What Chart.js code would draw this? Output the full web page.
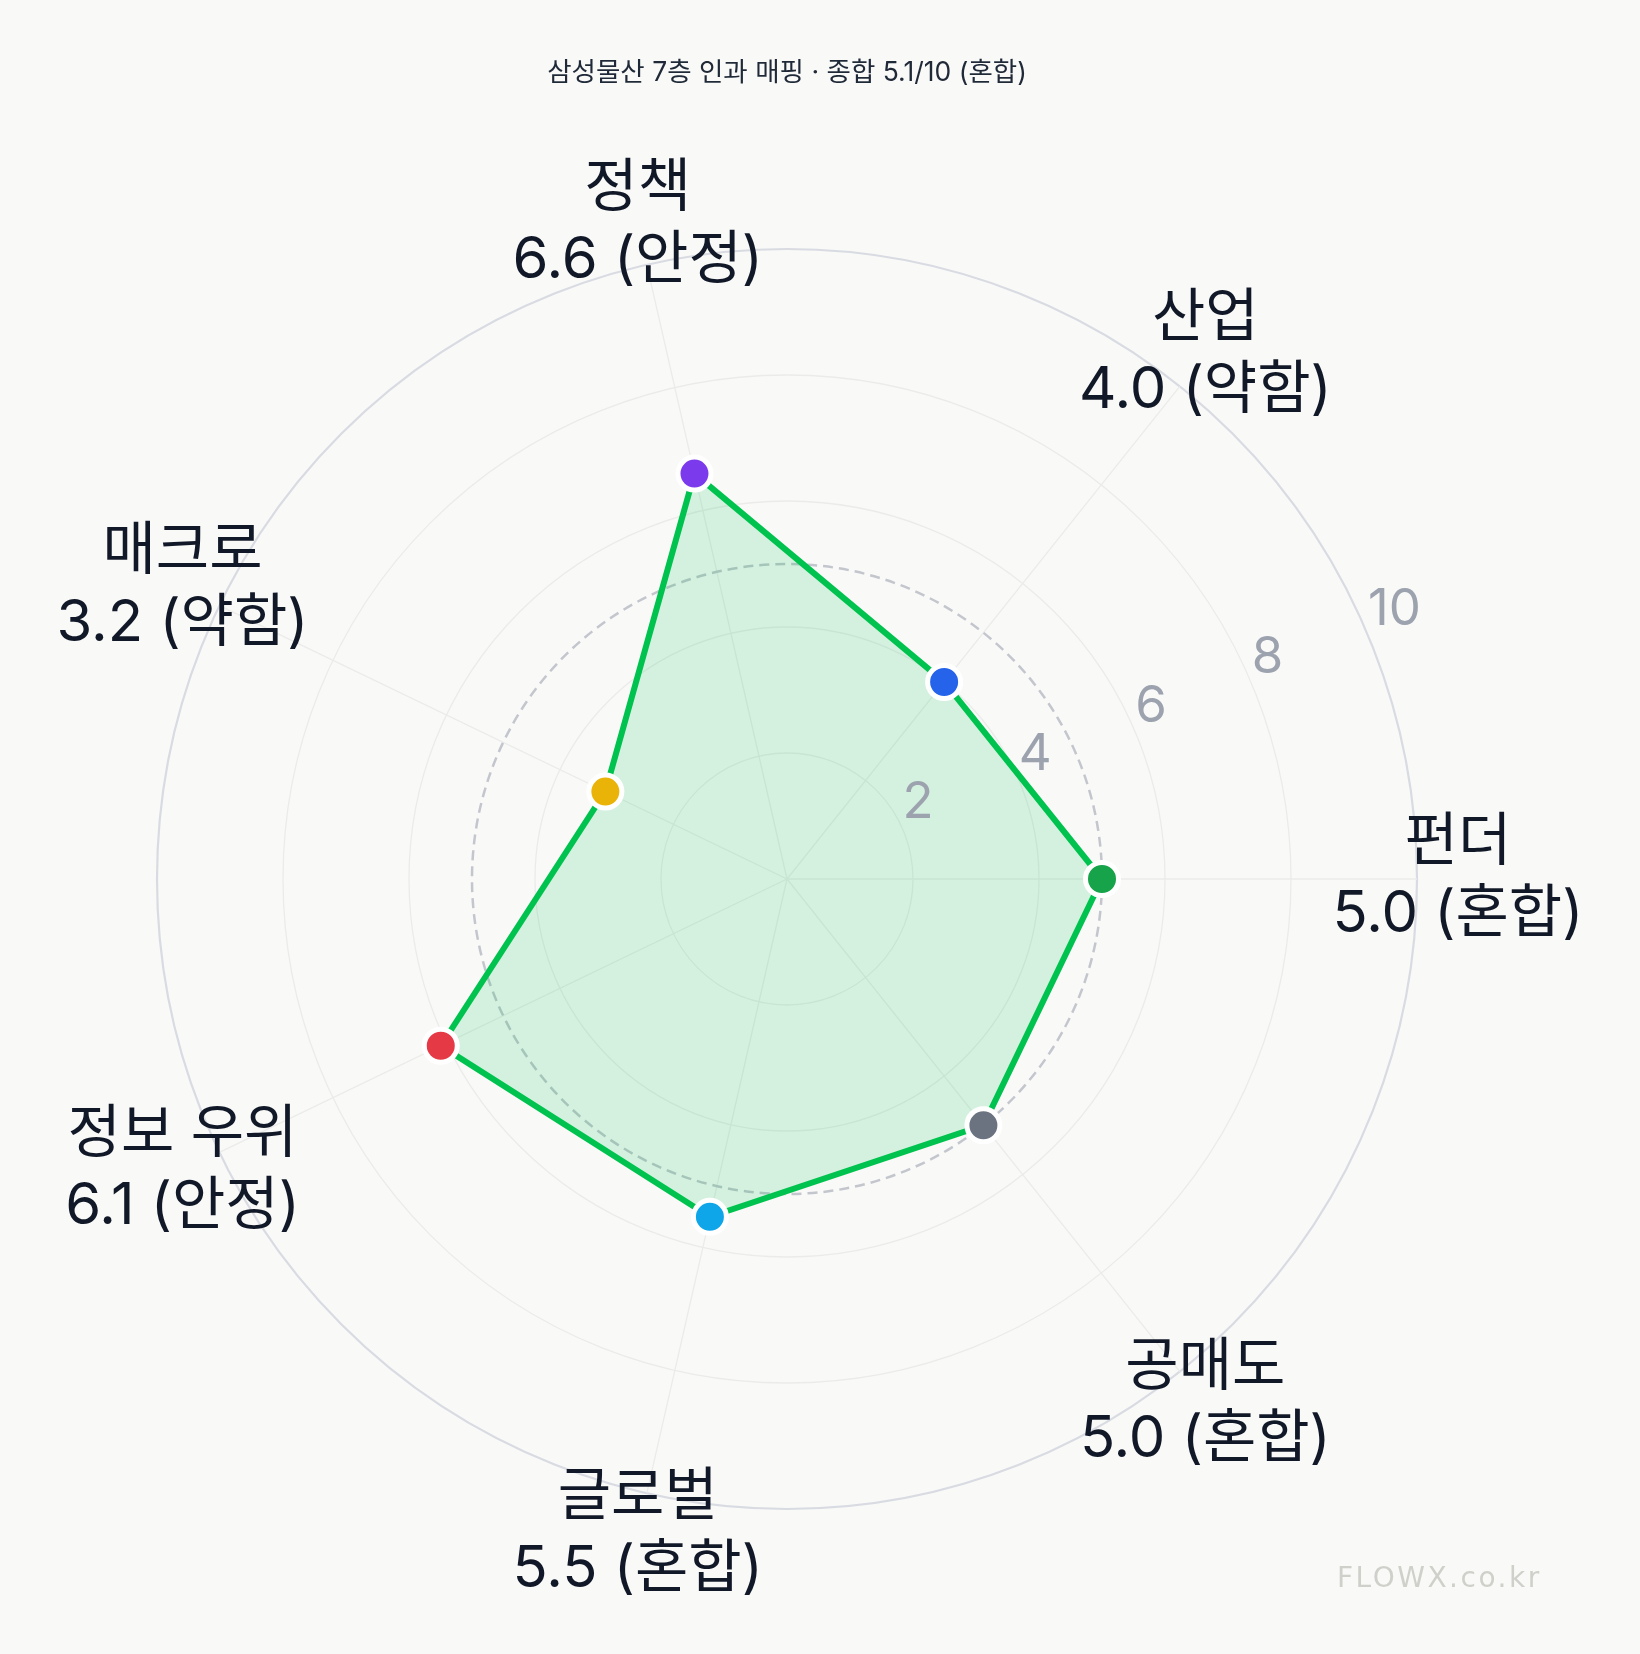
<!DOCTYPE html>
<html lang="ko">
<head>
<meta charset="UTF-8">
<title>삼성물산 7층 인과 매핑</title>
<script src="https://cdn.jsdelivr.net/npm/chart.js"></script>
<style>
  html, body { margin: 0; padding: 0; background: #f9f9f8; }
  canvas { display: block; }
</style>
</head>
<body>
<canvas id="radar" width="1640" height="1654"></canvas>
<script>
const chartTitle = '삼성물산 7층 인과 매핑 · 종합 5.1/10 (혼합)';
// layers listed counter-clockwise from the right, as in the picture
const layers = ['펀더', '산업', '정책', '매크로', '정보 우위', '글로벌', '공매도'];
const scores = [5.0, 4.0, 6.6, 3.2, 6.1, 5.5, 5.0];
const grades = ['혼합', '약함', '안정', '약함', '안정', '혼합', '혼합'];
const dotColors = ['#16a34a', '#2563eb', '#7c3aed', '#eab308', '#e63946', '#0ea5e9', '#6b7280'];
const tickValues = [2, 4, 6, 8, 10];
const refLine = 5.0;

// Chart.js walks clockwise, so flip the order (keep 펀더 first, on the right)
const order = [0, 6, 5, 4, 3, 2, 1];
const pick = arr => order.map(i => arr[i]);

const FONT = 'Inter, "Noto Sans CJK KR", sans-serif';

const extras = {
  id: 'extras',
  beforeDatasetsDraw(chart) {
    const s = chart.scales.r, ctx = chart.ctx;
    ctx.save();
    ctx.setLineDash([10, 6]);
    ctx.strokeStyle = '#c3c6cd';
    ctx.lineWidth = 2.5;
    ctx.beginPath();
    ctx.arc(s.xCenter, s.yCenter, s.getDistanceFromCenterForValue(refLine), 0, Math.PI * 2);
    ctx.stroke();
    ctx.restore();
  },
  afterDraw(chart) {
    const s = chart.scales.r, ctx = chart.ctx;
    ctx.save();

    // radial tick labels along 22.5 deg
    const a = 22.5 * Math.PI / 180;
    ctx.font = '51px ' + FONT;
    ctx.fillStyle = '#9ca3af';
    ctx.textAlign = 'left';
    ctx.textBaseline = 'middle';
    tickValues.forEach(v => {
      const d = s.getDistanceFromCenterForValue(v);
      ctx.fillText(String(v), s.xCenter + Math.cos(a) * d - 1, s.yCenter - Math.sin(a) * d - 28);
    });

    // point labels: name + score (grade)
    ctx.font = '58px ' + FONT;
    ctx.fillStyle = '#111827';
    ctx.textAlign = 'center';
    const names = pick(layers), vals = pick(scores), gr = pick(grades);
    names.forEach((n, i) => {
      const p = s.getPointPosition(i, s.drawingArea * 1.065);
      ctx.fillText(n, p.x, p.y - 36);
      ctx.fillText(vals[i].toFixed(1) + ' (' + gr[i] + ')', p.x, p.y + 36);
    });

    // title
    ctx.font = '26.5px ' + FONT;
    ctx.fillStyle = '#1f2937';
    ctx.fillText(chartTitle, s.xCenter, 73);

    // watermark
    ctx.font = '28px "DejaVu Sans"';
    ctx.letterSpacing = '2.5px';
    ctx.fillStyle = '#d0d0cb';
    ctx.textAlign = 'left';
    ctx.textBaseline = 'alphabetic';
    ctx.fillText('FLOWX.co.kr', 1337, 1587);
    ctx.restore();
  }
};

new Chart(document.getElementById('radar'), {
  type: 'radar',
  data: {
    labels: pick(layers),
    datasets: [{
      data: pick(scores),
      borderColor: '#00c34f',
      borderWidth: 6,
      backgroundColor: 'rgba(0, 196, 79, 0.15)',
      fill: true,
      tension: 0,
      pointBackgroundColor: pick(dotColors),
      pointBorderColor: '#ffffff',
      pointBorderWidth: 5,
      pointRadius: 16.5
    }]
  },
  options: {
    responsive: false,
    animation: false,
    layout: { padding: { left: 157, right: 223, top: 249, bottom: 145 } },
    plugins: { legend: { display: false }, tooltip: { enabled: false } },
    scales: {
      r: {
        startAngle: 90,
        min: 0,
        max: 10,
        ticks: { display: false, stepSize: 2 },
        pointLabels: { display: false },
        angleLines: { color: '#ebebea', lineWidth: 1.3 },
        grid: {
          circular: true,
          color: c => c.tick.value === 10 ? '#d9dbe2' : '#ebebea',
          lineWidth: c => c.tick.value === 10 ? 2.2 : 1.3
        }
      }
    }
  },
  plugins: [extras]
});
</script>
</body>
</html>
